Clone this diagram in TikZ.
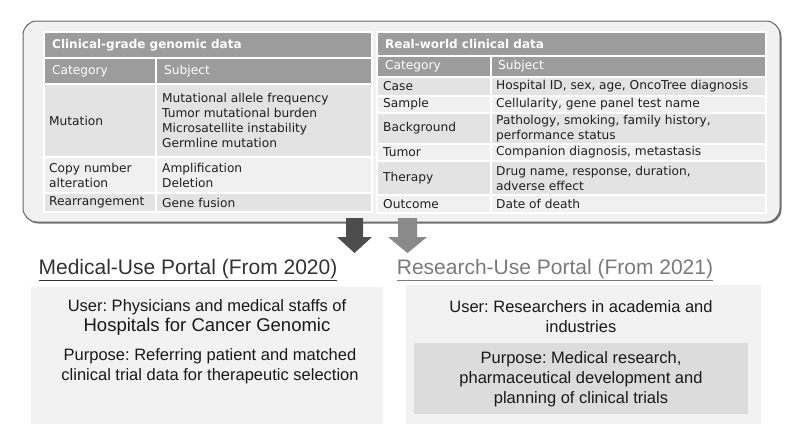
\documentclass[tikz,border=0pt]{standalone}
\usepackage{fontspec}
\setmainfont{Liberation Sans}
\newfontfamily\tabfont{DejaVu Sans}
\usepackage{tikz}
\usetikzlibrary{positioning}
\frenchspacing
\definecolor{boxbg}{HTML}{F1F1F1}
\definecolor{hdrbg}{HTML}{9C9C9C}
\definecolor{rowa}{HTML}{E3E3E3}
\definecolor{rowb}{HTML}{F0F0F0}
\definecolor{portalbg}{HTML}{F2F2F2}
\definecolor{purposebg}{HTML}{DCDCDC}
\definecolor{darkarr}{HTML}{4D4D4D}
\definecolor{lightarr}{HTML}{8A8A8A}
\tikzset{cellbg/.style={draw=white,line width=1.5pt},
  txt/.style={anchor=west,align=left,inner sep=0pt,text=black!88,font=\tabfont\fontsize{12.2}{15}\selectfont},
  hdrtxt/.style={txt,text=white},
  ttltxt/.style={txt,text=white,font=\tabfont\bfseries\fontsize{12}{15}\selectfont},
  portal/.style={align=center,inner sep=0pt,font=\fontsize{21}{25}\selectfont},
  body/.style={align=center,inner sep=0pt,text=black!90,font=\fontsize{16.5}{20}\selectfont}}

\begin{document}
\begin{tikzpicture}[x=1pt,y=-1pt]
\useasboundingbox (0,0) rectangle (800,447);
\fill[white] (0,0) rectangle (800,447);
% outer box with shadow
\fill[black!55,rounded corners=14pt] (24.5,22.5) rectangle (781.5,223.5);
\filldraw[fill=boxbg,draw=black!60,line width=1pt,rounded corners=14pt] (23,21) rectangle (780,222);

% left table
\filldraw[cellbg,fill=hdrbg] (44,32) rectangle (372,58);
\filldraw[cellbg,fill=hdrbg] (44,58) rectangle (156,84);
\filldraw[cellbg,fill=hdrbg] (156,58) rectangle (372,84);
\foreach \ya/\yb/\col in {84/157/rowa,157/193/rowb,193/212/rowa}{
  \filldraw[cellbg,fill=\col] (44,\ya) rectangle (156,\yb);
  \filldraw[cellbg,fill=\col] (156,\ya) rectangle (372,\yb);
}
\node[ttltxt] (gtitle) at (52,45) {Clinical-grade genomic data};
\node[hdrtxt] (gcat) at (52,71) {Category};
\node[hdrtxt] (gsub) at (164,71) {Subject};
\node[txt] (mut) at (49,120.5) {Mutation};
\node[txt] (mutsub) at (162,120.5) {Mutational allele frequency\\Tumor mutational burden\\Microsatellite instability\\Germline mutation};
\node[txt] (cnv) at (49,175) {Copy number\\alteration};
\node[txt] (cnvsub) at (162,175) {Amplification\\Deletion};
\node[txt] (rea) at (49,202.5) {Rearrangement};
\node[txt] (reasub) at (162,202.5) {Gene fusion};

% right table
\filldraw[cellbg,fill=hdrbg] (377,32) rectangle (766,56);
\filldraw[cellbg,fill=hdrbg] (377,56) rectangle (491,77);
\filldraw[cellbg,fill=hdrbg] (491,56) rectangle (766,77);
\foreach \ya/\yb/\col in {77/96/rowa,96/113/rowb,113/144/rowa,144/161/rowb,161/195/rowa,195/213/rowb}{
  \filldraw[cellbg,fill=\col] (377,\ya) rectangle (491,\yb);
  \filldraw[cellbg,fill=\col] (491,\ya) rectangle (766,\yb);
}
\node[ttltxt] (ctitle) at (385,44) {Real-world clinical data};
\node[hdrtxt] (ccat) at (385,66.5) {Category};
\node[hdrtxt] (csub) at (498,66.5) {Subject};
\node[txt] (case) at (383,86.5) {Case};
\node[txt] (casesub) at (496,86.5) {Hospital ID, sex, age, OncoTree diagnosis};
\node[txt] (smp) at (383,104.5) {Sample};
\node[txt] (smpsub) at (496,104.5) {Cellularity, gene panel test name};
\node[txt] (bkg) at (383,128.5) {Background};
\node[txt] (bkgsub) at (496,128.5) {Pathology, smoking, family history,\\performance status};
\node[txt] (tum) at (383,152.5) {Tumor};
\node[txt] (tumsub) at (496,152.5) {Companion diagnosis, metastasis};
\node[txt] (thr) at (383,178) {Therapy};
\node[txt] (thrsub) at (496,178) {Drug name, response, duration,\\adverse effect};
\node[txt] (out) at (383,204) {Outcome};
\node[txt] (outsub) at (496,204) {Date of death};

% block arrows
\coordinate (darr) at (354.5,218);
\coordinate (larr) at (407.5,218);
\fill[darkarr] (darr) ++(-8.5,0) -- ++(17,0) -- ++(0,19) -- ++(9,0) -- ++(-17.5,16) -- ++(-17.5,-16) -- ++(9,0) -- cycle;
\fill[lightarr] (larr) ++(-9.5,0) -- ++(19,0) -- ++(0,19) -- ++(10,0) -- ++(-19.5,16) -- ++(-19.5,-16) -- ++(10,0) -- cycle;

% portals
\node[portal,text=black!80] (medt) at (188,270) {\underline{Medical-Use Portal (From 2020)}};
\node[portal,text=black!52] (rest) at (555,270) {\underline{Research-Use Portal (From 2021)}};

\fill[portalbg] (31,287) rectangle (383,424);
\node[body] (meduser) at (207,317) {User: Physicians and medical staffs of\\{\fontsize{18.5}{20}\selectfont Hospitals for Cancer Genomic}};
\node[body] (medpur) at (210,366.5) {Purpose: Referring patient and matched\\clinical trial data for therapeutic selection};

\fill[portalbg] (406,285) rectangle (761,424);
\node[body] (resuser) at (581,317) {User: Researchers in academia and\\industries};
\fill[purposebg] (414,343) rectangle (748,414);
\node[body] (respur) at (581,379) {Purpose: Medical research,\\pharmaceutical development and\\planning of clinical trials};
\end{tikzpicture}
\end{document}
